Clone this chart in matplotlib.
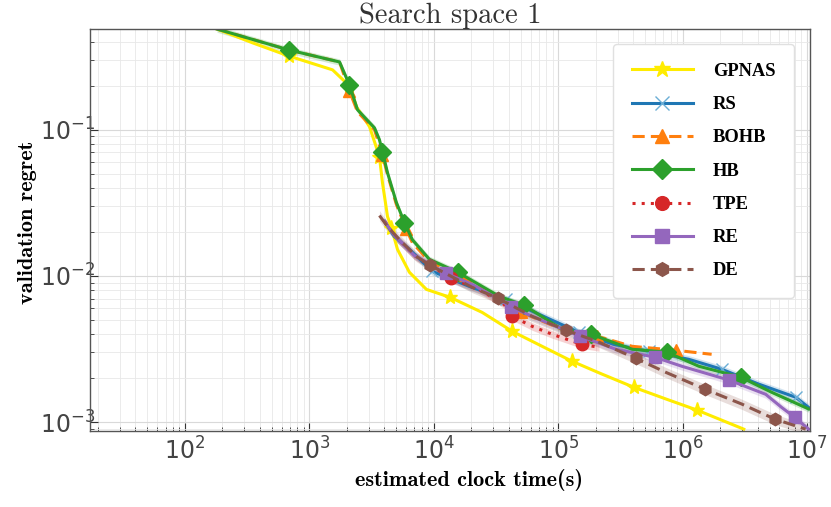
import matplotlib
matplotlib.use('Agg')
import matplotlib.pyplot as plt
import numpy as np

# estimated clock time (s) and validation regret
gpnas_t = [181, 351, 682, 1538, 2100, 2395, 3045, 3660, 3870, 4250, 4570, 5110, 6370, 8730,
           13600, 24500, 42700, 74300, 129000, 225000, 406000, 733000, 1.30e6, 3.10e6]
gpnas_r = [0.489, 0.393, 0.320, 0.257, 0.1995, 0.1435, 0.105, 0.0655, 0.0435, 0.0255, 0.0214,
           0.0152, 0.0106, 0.00809, 0.00713, 0.00563, 0.00418, 0.00330, 0.00261, 0.00213,
           0.00173, 0.00144, 0.00121, 0.000895]
gpnas_mk = [2, 4, 7, 10, 14, 16, 18, 20, 22]

rs_t = [4020, 4830, 6370, 9750, 19300, 38200, 70300, 147000, 281000, 536000, 1.12e6, 2.06e6,
        4.08e6, 8.09e6, 1.03e7]
rs_r = [0.0236, 0.0186, 0.0152, 0.01074, 0.00848, 0.00691, 0.00546, 0.00411, 0.00340, 0.00305,
        0.00269, 0.00230, 0.00182, 0.00148, 0.00126]
rs_mk = [3, 5, 7, 9, 11, 13]

bohb_t = [181, 682, 1750, 2100, 2440, 3340, 3870, 4250, 5010, 6030, 6730, 9220, 15200, 33600,
          50400, 107000, 205000, 392000, 882000, 1.71e6]
bohb_r = [0.489, 0.352, 0.291, 0.1845, 0.1327, 0.1, 0.0675, 0.0493, 0.0308, 0.0208, 0.0169,
          0.01256, 0.01023, 0.00713, 0.00563, 0.00432, 0.00387, 0.00330, 0.00310, 0.00291]
bohb_mk = [3, 6, 9, 12, 14, 16, 18]

hb_t = [181, 682, 1750, 2100, 2440, 3340, 3660, 3870, 4250, 5010, 5810, 6730, 9220, 15700,
        33600, 53300, 107000, 184000, 392000, 747000, 1.35e6, 2.93e6, 5.19e6, 1.03e7]
hb_r = [0.489, 0.352, 0.291, 0.203, 0.137, 0.103, 0.0855, 0.0708, 0.0508, 0.0318, 0.0232,
        0.0177, 0.0130, 0.01057, 0.00725, 0.00630, 0.00432, 0.00399, 0.00315, 0.00301,
        0.00241, 0.00203, 0.00160, 0.00123]
hb_mk = [1, 3, 7, 10, 13, 15, 17, 19, 21]

tpe_t = [4020, 4830, 6990, 13800, 23200, 36800, 42700, 61800, 89300, 155000, 213000]
tpe_r = [0.0236, 0.0189, 0.0138, 0.00962, 0.00809, 0.00639, 0.00529, 0.00452, 0.00399,
         0.00340, 0.00325]
tpe_mk = [3, 6, 9]

re_t = [4020, 4830, 6990, 12600, 20400, 33600, 41900, 80000, 150000, 291000, 598000, 986000,
        1.62e6, 2.35e6, 4.65e6, 6.25e6, 7.94e6, 1.03e7]
re_r = [0.0236, 0.0189, 0.0138, 0.0104, 0.00875, 0.00691, 0.00610, 0.00482, 0.00387, 0.00315,
        0.00278, 0.00241, 0.00213, 0.00194, 0.00155, 0.00126, 0.00108, 0.000895]
re_mk = [3, 6, 8, 10, 13, 16]

de_t = [3660, 4250, 5300, 7250, 9390, 20400, 33000, 61800, 116000, 213000, 421000, 733000,
        1.51e6, 2.98e6, 5.49e6, 9.73e6]
de_r = [0.0259, 0.0218, 0.0177, 0.0136, 0.0118, 0.00835, 0.00702, 0.00529, 0.00425, 0.00352,
        0.00273, 0.00219, 0.00168, 0.00133, 0.00105, 0.000895]
de_mk = [4, 6, 8, 10, 12, 14]

# relative half-width of the shaded spread
spread = {'RS': 0.06, 'HB': 0.05, 'TPE': 0.06, 'RE': 0.06, 'DE': 0.08}

plt.rcParams['mathtext.fontset'] = 'cm'
plt.rcParams['axes.formatter.use_mathtext'] = True

fig = plt.figure(figsize=(8.31, 5.07), dpi=100)
ax = fig.add_axes([0.108, 0.150, 0.867, 0.793])

series = [
    ('GPNAS', gpnas_t, gpnas_r, gpnas_mk, '#ffec00', '-', '*', 11),
    ('RS', rs_t, rs_r, rs_mk, '#1f77b4', '-', 'x', 9),
    ('BOHB', bohb_t, bohb_r, bohb_mk, '#ff7f0e', (0, (4, 2)), '^', 9),
    ('HB', hb_t, hb_r, hb_mk, '#2ca02c', '-', 'D', 9),
    ('TPE', tpe_t, tpe_r, tpe_mk, '#d62728', (0, (1, 2)), 'o', 9),
    ('RE', re_t, re_r, re_mk, '#9467bd', '-', 's', 9),
    ('DE', de_t, de_r, de_mk, '#8c564b', (0, (4, 2)), 'h', 9),
]

for name, t, r, mk, col, ls, m, ms in series:
    t = np.array(t)
    r = np.array(r)
    if name in spread:
        s = spread[name]
        ax.fill_between(t, r * (1 - s), r * (1 + s), color=col, alpha=0.2, lw=0)
    mec = '#6baed6' if m == 'x' else col
    ax.plot(t, r, color=col, ls=ls, lw=2.2, marker=m, ms=ms, markevery=mk,
            mec=mec, mew=1.0, label=name)

ax.set_xscale('log')
ax.set_yscale('log')
ax.set_xlim(17.2, 1.06e7)
ax.set_ylim(8.7e-4, 0.49)

ax.grid(True, which='major', color='#d9d9d9', lw=0.8)
ax.grid(True, which='minor', color='#e8e8e8', lw=0.6)
ax.set_axisbelow(True)
for sp in ax.spines.values():
    sp.set_color('#555555')
    sp.set_linewidth(1.0)
ax.tick_params(which='both', direction='in', colors='#333333', labelcolor='#444444',
               labelsize=17)
ax.tick_params(which='major', length=6)
ax.tick_params(which='minor', length=3)
ax.tick_params(axis='x', pad=5)
ax.tick_params(axis='y', pad=-4)

ax.set_title('Search space 1', fontfamily='cmr10', fontsize=20.5, pad=2, color='#333333')
ax.set_xlabel('estimated clock time(s)', fontfamily='cmb10', fontsize=16, labelpad=3)
ax.xaxis.label.set_x(0.527)
ax.set_ylabel('validation regret', fontfamily='cmb10', fontsize=16, labelpad=2)
ax.yaxis.label.set_y(0.52)

leg = ax.legend(loc='upper right', bbox_to_anchor=(0.985, 0.975),
                prop={'family': 'Liberation Serif', 'weight': 'bold', 'size': 13.3},
                handlelength=3.3, handletextpad=1.1, labelspacing=0.88,
                borderpad=1.0, borderaxespad=0.3, fancybox=True, framealpha=1.0,
                edgecolor='#e0e0e0', markerscale=1.1)

fig.savefig('out.png', dpi=100)
